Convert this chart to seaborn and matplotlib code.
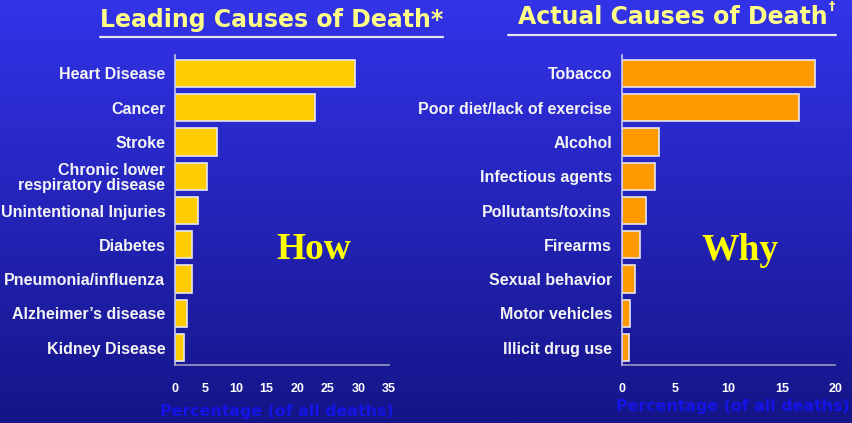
import numpy as np
import pandas as pd
import matplotlib
matplotlib.use("Agg")
import matplotlib.pyplot as plt
from matplotlib.lines import Line2D
import seaborn as sns

# ---- data ----
how_causes = ["Heart Disease", "Cancer", "Stroke", "Chronic lower\nrespiratory disease",
              "Unintentional Injuries", "Diabetes", "Pneumonia/influenza",
              "Alzheimer\u2019s disease", "Kidney Disease"]
how_values = [29.5, 22.9, 6.9, 5.2, 3.8, 2.8, 2.8, 1.9, 1.5]

why_causes = ["Tobacco", "Poor diet/lack of exercise", "Alcohol", "Infectious agents",
              "Pollutants/toxins", "Firearms", "Sexual behavior", "Motor vehicles",
              "Illicit drug use"]
why_values = [18.1, 16.6, 3.5, 3.1, 2.3, 1.7, 1.2, 0.8, 0.7]

how_ticks = [0, 5, 10, 15, 20, 25, 30, 35]
why_ticks = [0, 5, 10, 15, 20]

left_title = "Leading Causes of Death*"
right_title = "Actual Causes of Death"
xlabel = "Percentage (of all deaths)"

W, H = 853, 423
sns.set_theme(style="white")
plt.rcParams["font.family"] = ["Liberation Sans", "DejaVu Sans"]

fig = plt.figure(figsize=(W / 100, H / 100), dpi=100)

def fx(x):
    return x / W

def fy(y):
    return 1 - y / H

# background gradient
bg = fig.add_axes([0, 0, 1, 1], zorder=-10)
top = np.array([0x33, 0x33, 0xEA]) / 255
bot = np.array([0x15, 0x15, 0x88]) / 255
t = np.linspace(0, 1, 256)[:, None]
grad = (top[None, :] * (1 - t) + bot[None, :] * t)[:, None, :]
bg.imshow(grad, aspect="auto", extent=[0, 1, 0, 1])
bg.set_axis_off()

def make_panel(rect, cats, vals, ticks, color):
    ax = fig.add_axes(rect)
    ax.set_facecolor("none")
    df = pd.DataFrame({"cause": cats, "value": vals})
    sns.barplot(data=df, x="value", y="cause", orient="h", color=color,
                saturation=1, width=0.79, edgecolor="#E6E6EE", linewidth=1.2, ax=ax)
    ax.set_xlim(ticks[0], ticks[-1])
    ax.set_ylim(8.51, -0.54)
    ax.set_xticks(ticks)
    ax.set_xticklabels([str(v) for v in ticks], fontsize=9, fontweight="bold",
                       color="white", family=["Liberation Sans Narrow", "Liberation Sans"])
    for lab in ax.get_yticklabels():
        lab.set_fontsize(11.5)
        lab.set_fontweight("bold")
        lab.set_color("#F4F4F4")
        lab.set_linespacing(1.0)
    ax.tick_params(axis="y", length=0, pad=7)
    ax.tick_params(axis="x", length=3, width=1, color="#B8B8D8", direction="out", pad=10)
    for s in ["top", "right"]:
        ax.spines[s].set_visible(False)
    ax.spines["left"].set_color("#C8C8EC")
    ax.spines["left"].set_linewidth(1.2)
    ax.spines["bottom"].set_color("#9A9AC0")
    ax.spines["bottom"].set_linewidth(1.2)
    ax.set_xlabel("")
    ax.set_ylabel("")
    ax.grid(False)
    return ax

axL = make_panel([fx(175), fy(365), fx(389) - fx(175), fy(55) - fy(365)],
                 how_causes, how_values, how_ticks, "#FFCC00")
axR = make_panel([fx(621.7), fy(365), fx(835.3) - fx(621.7), fy(55) - fy(365)],
                 why_causes, why_values, why_ticks, "#FF9900")

# titles
title_kw = dict(fontsize=17, fontweight="bold", color="#FFFF88",
                family=["DejaVu Sans"], va="baseline", ha="left")
fig.text(fx(100), fy(27), left_title, **title_kw)
rt = fig.text(fx(518), fy(24.5), right_title, **title_kw)
fig.add_artist(Line2D([fx(100), fx(443)], [fy(37), fy(37)], color="#E4E4EE", lw=1.6))
fig.add_artist(Line2D([fx(508), fx(836)], [fy(35), fy(35)], color="#E4E4EE", lw=1.6))
fig.canvas.draw()
ext = rt.get_window_extent()
fig.text(ext.x1 / fig.bbox.width + 0.001, ext.y1 / fig.bbox.height + 0.012, "\u2020",
         fontsize=9, fontweight="bold", color="#FFFF88",
         family=["DejaVu Sans"], ha="left", va="top")

# x labels
xl_kw = dict(fontsize=11.4, fontweight="bold", color="#1414E6",
             family=["DejaVu Sans"], ha="center", va="center")
fig.text(fx(276.5), fy(411), xlabel, **xl_kw)
fig.text(fx(733), fy(406), xlabel, **xl_kw)

# big words
big_kw = dict(fontsize=27, fontweight="bold", color="#FFFF00",
              family=["Liberation Serif"], ha="left", va="baseline")
fig.text(fx(276), fy(259), "How", **big_kw)
fig.text(fx(701.7), fy(260), "Why", **big_kw)

fig.savefig("out.png", dpi=100)
